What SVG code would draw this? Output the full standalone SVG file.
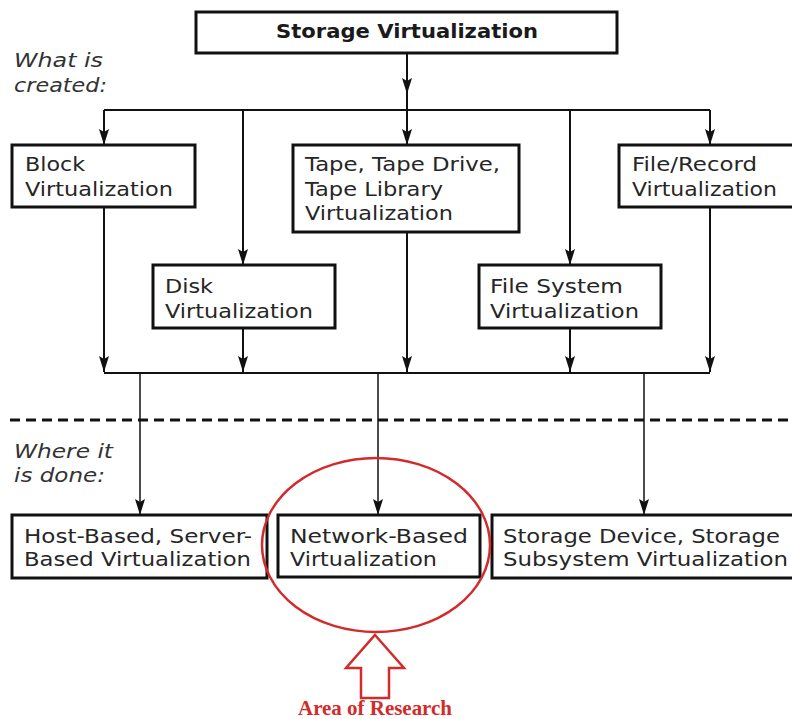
<svg xmlns="http://www.w3.org/2000/svg" width="792" height="719" viewBox="0 0 792 719">
<style>
.box{fill:#fff;stroke:#111;stroke-width:3}
.t{font-family:"DejaVu Sans",sans-serif;font-size:20px;fill:#262626}
.tb{font-family:"DejaVu Sans",sans-serif;font-size:19px;font-weight:bold;fill:#1a1a1a}
.ti{font-family:"DejaVu Sans",sans-serif;font-size:20px;font-style:italic;fill:#333}
.c{fill:none;stroke:#111;stroke-width:2}
.c2{fill:none;stroke:#111;stroke-width:1.5}
.red{fill:none;stroke:#d22b2b;stroke-width:2.5}
</style>
<defs>
<marker id="ah" markerUnits="userSpaceOnUse" markerWidth="16" markerHeight="12" viewBox="0 0 16 12" refX="16" refY="6" orient="auto">
<path d="M0,1 L16,6 L0,11 L3,6 z" fill="#111"/>
</marker>
</defs>
<g id="connectors">
<path class="c" d="M407,53 V94" marker-end="url(#ah)"/>
<path class="c" d="M407,94 V110"/>
<path class="c" d="M104,110 H710"/>
<path class="c" d="M104,110 V145" marker-end="url(#ah)"/>
<path class="c" d="M243,110 V265" marker-end="url(#ah)"/>
<path class="c" d="M407,110 V145" marker-end="url(#ah)"/>
<path class="c" d="M570,110 V265" marker-end="url(#ah)"/>
<path class="c" d="M710,110 V145" marker-end="url(#ah)"/>
<path class="c" d="M104,207 V372" marker-end="url(#ah)"/>
<path class="c" d="M243,328 V372" marker-end="url(#ah)"/>
<path class="c" d="M407,232 V372" marker-end="url(#ah)"/>
<path class="c" d="M570,328 V372" marker-end="url(#ah)"/>
<path class="c" d="M710,207 V372" marker-end="url(#ah)"/>
<path class="c" d="M104,373 H710"/>
<path class="c2" d="M140,373 V515" marker-end="url(#ah)"/>
<path class="c2" d="M378,373 V515" marker-end="url(#ah)"/>
<path class="c2" d="M644,373 V515" marker-end="url(#ah)"/>
</g>
<g id="divider">
<path d="M10,420 H792" stroke="#111" stroke-width="3" stroke-dasharray="10 6" fill="none"/>
</g>
<g id="label-what">
<text class="ti" x="14" y="67" textLength="89" lengthAdjust="spacingAndGlyphs">What is</text>
<text class="ti" x="14" y="92" textLength="93" lengthAdjust="spacingAndGlyphs">created:</text>
</g>
<g id="label-where">
<text class="ti" x="14" y="458" textLength="99" lengthAdjust="spacingAndGlyphs">Where it</text>
<text class="ti" x="14" y="482" textLength="91" lengthAdjust="spacingAndGlyphs">is done:</text>
</g>
<g id="storage-virtualization">
<rect class="box" x="196" y="12" width="421" height="41"/>
<text class="tb" x="276" y="38" textLength="262" lengthAdjust="spacingAndGlyphs">Storage Virtualization</text>
</g>
<g id="block">
<rect class="box" x="12" y="145" width="183" height="62"/>
<text class="t" x="25" y="171" textLength="60" lengthAdjust="spacingAndGlyphs">Block</text>
<text class="t" x="25" y="196" textLength="148" lengthAdjust="spacingAndGlyphs">Virtualization</text>
</g>
<g id="tape">
<rect class="box" x="293" y="145" width="226" height="87"/>
<text class="t" x="305" y="171" textLength="195" lengthAdjust="spacingAndGlyphs">Tape, Tape Drive,</text>
<text class="t" x="305" y="196" textLength="138" lengthAdjust="spacingAndGlyphs">Tape Library</text>
<text class="t" x="305" y="220" textLength="148" lengthAdjust="spacingAndGlyphs">Virtualization</text>
</g>
<g id="file-record">
<rect class="box" x="619" y="145" width="185" height="62"/>
<text class="t" x="632" y="171" textLength="125" lengthAdjust="spacingAndGlyphs">File/Record</text>
<text class="t" x="632" y="196" textLength="145" lengthAdjust="spacingAndGlyphs">Virtualization</text>
</g>
<g id="disk">
<rect class="box" x="153" y="265" width="182" height="63"/>
<text class="t" x="165" y="293" textLength="48" lengthAdjust="spacingAndGlyphs">Disk</text>
<text class="t" x="165" y="318" textLength="148" lengthAdjust="spacingAndGlyphs">Virtualization</text>
</g>
<g id="file-system">
<rect class="box" x="479" y="265" width="182" height="63"/>
<text class="t" x="490" y="293" textLength="133" lengthAdjust="spacingAndGlyphs">File System</text>
<text class="t" x="490" y="318" textLength="149" lengthAdjust="spacingAndGlyphs">Virtualization</text>
</g>
<g id="host-based">
<rect class="box" x="12" y="515" width="255" height="63"/>
<text class="t" x="24" y="543" textLength="228" lengthAdjust="spacingAndGlyphs">Host-Based, Server-</text>
<text class="t" x="24" y="566" textLength="227" lengthAdjust="spacingAndGlyphs">Based Virtualization</text>
</g>
<g id="network-based">
<rect class="box" x="278" y="515" width="202" height="62"/>
<text class="t" x="290" y="543" textLength="178" lengthAdjust="spacingAndGlyphs">Network-Based</text>
<text class="t" x="290" y="566" textLength="147" lengthAdjust="spacingAndGlyphs">Virtualization</text>
</g>
<g id="storage-device">
<rect class="box" x="492" y="515" width="310" height="63"/>
<text class="t" x="503" y="543" textLength="277" lengthAdjust="spacingAndGlyphs">Storage Device, Storage</text>
<text class="t" x="503" y="566" textLength="285" lengthAdjust="spacingAndGlyphs">Subsystem Virtualization</text>
</g>
<g id="area-of-research">
<ellipse class="red" cx="376" cy="545" rx="114" ry="87"/>
<polygon class="red" points="375,635 404,668 389,668 389,698 361,698 361,668 346,668"/>
<text x="298" y="715" textLength="154" lengthAdjust="spacingAndGlyphs" style="font-family:'Liberation Serif',serif;font-size:20px;font-weight:bold;fill:#d22b2b">Area of Research</text>
</g>
</svg>
